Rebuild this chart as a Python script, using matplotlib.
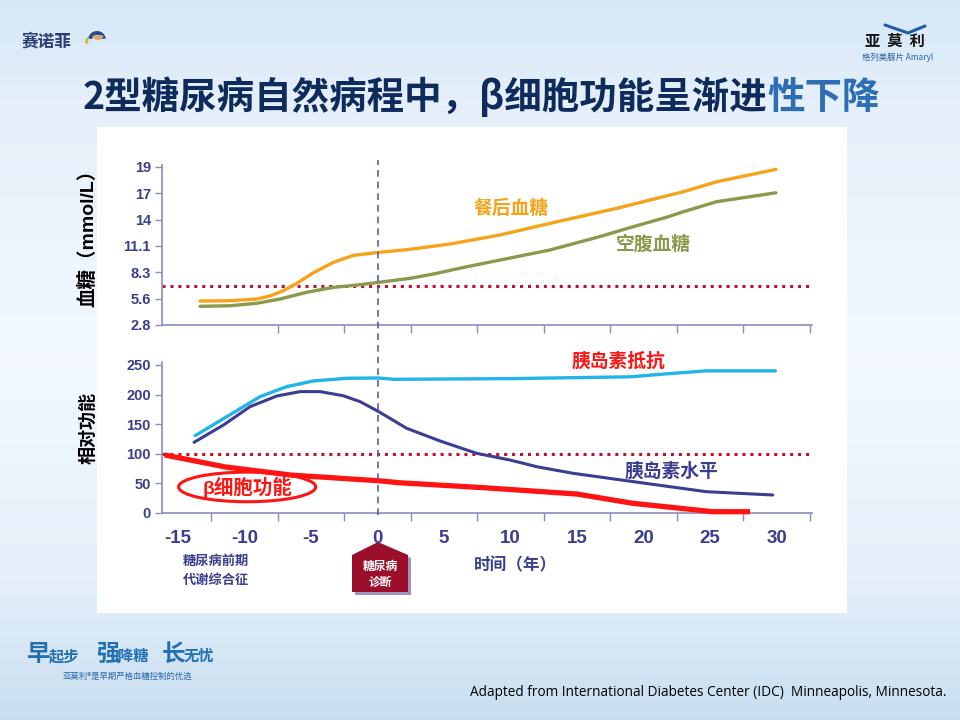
import numpy as np
import matplotlib
matplotlib.use('Agg')
import matplotlib.pyplot as plt
from matplotlib.patches import Ellipse, Polygon, Rectangle, Wedge
from matplotlib.lines import Line2D
import matplotlib.transforms as mtransforms

plt.rcParams['font.family'] = ['Liberation Sans', 'Noto Sans CJK SC', 'DejaVu Sans']

# ---------------- data ----------------
post_years = [-13.34, -11.08, -9.08, -8.08, -7.08, -6.07, -4.82, -3.32, -1.82, 0.1, 2.44,
              5.45, 9.2, 12.96, 17.97, 22.97, 25.48, 29.94]
post_glucose = [5.31, 5.34, 5.52, 5.84, 6.4, 7.17, 8.29, 9.39, 10.12, 10.44, 10.76,
                11.32, 12.27, 13.5, 15.08, 16.83, 17.88, 19.19]

fast_years = [-13.34, -11.08, -9.08, -7.33, -5.32, -3.32, -1.56, 0.1, 2.44, 4.2, 6.7,
              12.96, 16.7, 19.2, 21.7, 22.97, 25.48, 29.94]
fast_glucose = [4.75, 4.81, 5.07, 5.52, 6.23, 6.75, 6.99, 7.28, 7.7, 8.16, 8.92,
                10.69, 12.1, 13.14, 14.13, 14.72, 15.78, 16.72]

resist_years = [-13.71, -11.33, -8.83, -6.82, -4.82, -2.31, 0.1, 1.19, 9.95, 19.0, 21.7, 24.7, 29.9]
resist_values = [130.6, 162.7, 196.5, 213.4, 223, 227.5, 228, 225.8, 226.9, 230, 235, 240, 240]

insulin_years = [-13.79, -11.58, -9.58, -7.57, -5.82, -4.32, -2.57, -1.31, 0.1, 2.19, 4.7,
                 7.45, 9.95, 12.0, 14.7, 19.2, 24.7, 29.7]
insulin_values = [119.4, 148.6, 179.6, 197.6, 205, 205, 198, 188, 171, 143, 121.6,
                  100.8, 89.5, 78, 67, 53, 36, 30.4]

beta_years = [-16.0, -11.5, -6.5, 0.0, 1.7, 8.0, 15.0, 19.2, 25.2, 28.0]
beta_values = [98, 78, 64, 54.6, 51, 42.7, 32, 16.3, 2.2, 2.2]

glucose_ticks = [2.78, 5.56, 8.33, 11.11, 13.89, 16.67, 19.44]
glucose_tick_labels = ['2.8', '5.6', '8.3', '11.1', '14', '17', '19']
function_ticks = [0, 50, 100, 150, 200, 250]
function_tick_labels = ['0', '50', '100', '150', '200', '250']
year_ticks = [-15, -10, -5, 0, 5, 10, 15, 20, 25, 30]
year_tick_labels = ['-15', '-10', '-5', '0', '5', '10', '15', '20', '25', '30']
glucose_threshold = 6.9
function_threshold = 100
diagnosis_year = 0

# ---------------- colours ----------------
NAVY = '#0e2b5c'
TICKC = '#3b3e8f'
AXC = '#8a8cc0'
ORANGE = '#f7a21b'
GREEN = '#8a9a4c'
LBLUE = '#22b4e8'
DBLUE = '#3a3d92'
RED = '#ff1414'
DOTRED = '#c4102c'
CJK = ['Noto Sans CJK SC', 'DejaVu Sans']

W, H = 960, 720
def fx(px):
    return px / W
def fy(py):
    return 1 - py / H

fig = plt.figure(figsize=(9.6, 7.2), dpi=100)

# ---------------- background ----------------
bg = fig.add_axes([0, 0, 1, 1])
bg.set_xlim(0, W)
bg.set_ylim(H, 0)
bg.axis('off')
stops = np.array([0.0, 0.15, 0.5, 0.8, 1.0])
cols = np.array([[0.84, 0.91, 0.97],
                 [0.90, 0.94, 0.98],
                 [0.95, 0.975, 1.0],
                 [0.90, 0.94, 0.98],
                 [0.78, 0.87, 0.94]])
yy = np.linspace(0, 1, 256)
grad = np.stack([np.interp(yy, stops, cols[:, k]) for k in range(3)], axis=-1)
grad = np.repeat(grad[:, None, :], 4, axis=1)
bg.imshow(grad, extent=[0, W, H, 0], aspect='auto', zorder=0)
bg.add_patch(Rectangle((97, 127), 750, 486, facecolor='white', edgecolor='none', zorder=1))

# logos (text + simple shapes)
bg.text(22, 41, '赛诺菲', fontsize=12, fontweight='bold', color='#2b3d78',
        family=CJK, va='center', ha='left', zorder=2)
bg.add_patch(Wedge((97, 40), 9, 190, 350, width=4, facecolor='#2a4a9a', zorder=2))
bg.add_patch(Wedge((98, 34), 6, 20, 160, width=4, facecolor='#e3a860', zorder=2))
bg.add_patch(Wedge((89, 41), 4, 120, 260, width=3, facecolor='#c8c040', zorder=2))

bg.plot([885, 908, 925], [25, 33, 26], color='#1f5fa8', lw=2.2, zorder=2, solid_capstyle='round')
bg.text(895, 41, '亚  莫  利', fontsize=11, fontweight='bold', color='#111111',
        family=CJK, va='center', ha='center', zorder=2)
bg.text(898, 57, '格列美脲片 Amaryl', fontsize=6, color='#2a62a8',
        family=CJK, va='center', ha='center', zorder=2)

# bottom-left slogan
SLOG = '#2270b4'
bg.text(27, 661, '早', fontsize=17, fontweight='bold', color=SLOG, family=CJK, va='baseline', zorder=2)
bg.text(49, 661, '起步', fontsize=11, fontweight='bold', color=SLOG, family=CJK, va='baseline', zorder=2)
bg.text(96, 661, '强', fontsize=17, fontweight='bold', color=SLOG, family=CJK, va='baseline', zorder=2)
bg.text(118, 661, '降糖', fontsize=11, fontweight='bold', color=SLOG, family=CJK, va='baseline', zorder=2)
bg.text(162, 661, '长', fontsize=17, fontweight='bold', color=SLOG, family=CJK, va='baseline', zorder=2)
bg.text(184, 661, '无忧', fontsize=11, fontweight='bold', color=SLOG, family=CJK, va='baseline', zorder=2)
bg.text(127, 676, '亚莫利®是早期严格血糖控制的优选', fontsize=6, color='#2e68ae',
        family=CJK, va='center', ha='center', zorder=2)

# footer
bg.text(470, 693, 'Adapted from International Diabetes Center (IDC)  Minneapolis, Minnesota.',
        fontsize=9.8, color='black', family=['Open Sans', 'DejaVu Sans'], va='center', ha='left', zorder=2)

# title
t1 = bg.text(83, 97, '2型糖尿病自然病程中，β细胞功能呈渐进', fontsize=27, fontweight='bold',
             color=NAVY, family=CJK, va='center', ha='left', zorder=2)
bg.annotate('性下降', xy=(1, 0.5), xycoords=t1, va='center', ha='left', fontsize=27,
            fontweight='bold', color='#2d6db4', family=CJK, zorder=2)

# ---------------- axes ----------------
XL = (-16.2, 32.65)

def style_axis(ax):
    for s in ['top', 'right']:
        ax.spines[s].set_visible(False)
    for s in ['left', 'bottom']:
        ax.spines[s].set_color(AXC)
        ax.spines[s].set_linewidth(1.2)
    ax.set_facecolor('none')
    ax.tick_params(axis='y', colors=AXC, length=5, width=1.0, pad=3,
                   labelcolor=TICKC, labelsize=10.5)
    for lab in ax.get_yticklabels():
        lab.set_fontweight('bold')

ax1 = fig.add_axes([fx(162), fy(325), (812 - 162) / W, (325 - 165) / H])
ax1.set_xlim(*XL)
ax1.set_ylim(2.78, 19.65)
ax1.set_yticks(glucose_ticks)
ax1.set_yticklabels(glucose_tick_labels)
ax1.set_xticks([])
ax1.set_xticks(np.arange(-7.5, 33, 5), minor=True)
ax1.tick_params(axis='x', which='minor', colors=AXC, length=6, width=1.0, labelbottom=False)
style_axis(ax1)

ax1.axhline(glucose_threshold, color=DOTRED, lw=2.2, linestyle=(0, (1, 1.6)), zorder=2)
ax1.plot(post_years, post_glucose, color=ORANGE, lw=2.4, zorder=3,
         solid_capstyle='round', solid_joinstyle='round')
ax1.plot(fast_years, fast_glucose, color=GREEN, lw=2.4, zorder=3,
         solid_capstyle='round', solid_joinstyle='round')
ax1.text(10.0, 15.1, '餐后血糖', color=ORANGE, fontsize=13.5, fontweight='bold',
         family=CJK, ha='center', va='center')
ax1.text(20.7, 11.3, '空腹血糖', color=GREEN, fontsize=13.5, fontweight='bold',
         family=CJK, ha='center', va='center')

ax2 = fig.add_axes([fx(162), fy(513), (812 - 162) / W, (513 - 362) / H])
ax2.set_xlim(*XL)
ax2.set_ylim(0, 255)
ax2.set_yticks(function_ticks)
ax2.set_yticklabels(function_tick_labels)
ax2.set_xticks(year_ticks)
ax2.set_xticklabels(year_tick_labels)
ax2.set_xticks(np.arange(-12.5, 33, 5), minor=True)
ax2.tick_params(axis='x', which='major', length=0, pad=12, labelcolor=TICKC, labelsize=13.5)
ax2.tick_params(axis='x', which='minor', colors=AXC, length=6, width=1.0)
for lab in ax2.get_xticklabels():
    lab.set_fontweight('bold')
style_axis(ax2)

ax2.axhline(function_threshold, color=DOTRED, lw=2.2, linestyle=(0, (1, 1.6)), zorder=2)
ax2.plot(resist_years, resist_values, color=LBLUE, lw=2.4, zorder=4,
         solid_capstyle='round', solid_joinstyle='round')
ax2.plot(insulin_years, insulin_values, color=DBLUE, lw=2.2, zorder=4,
         solid_capstyle='round', solid_joinstyle='round')
ax2.add_patch(Ellipse((-9.8, 44), 10.3, 50, facecolor='white', edgecolor=RED, lw=2.2,
                      zorder=3, clip_on=False))
ax2.text(-9.8, 44, 'β细胞功能', color=RED, fontsize=14, fontweight='bold',
         ha='center', va='center', zorder=6)
ax2.plot(beta_years, beta_values, color=RED, lw=3.8, zorder=5, solid_capstyle='butt',
         solid_joinstyle='round', clip_on=False)
ax2.text(18.1, 257, '胰岛素抵抗', color=RED, fontsize=13.5, fontweight='bold',
         family=CJK, ha='center', va='center', clip_on=False)
ax2.text(22.1, 70, '胰岛素水平', color=DBLUE, fontsize=13.5, fontweight='bold',
         family=CJK, ha='center', va='center')

# vertical dashed diagnosis line across both panels
trans = mtransforms.blended_transform_factory(ax1.transData, fig.transFigure)
fig.add_artist(Line2D([diagnosis_year, diagnosis_year], [fy(515), fy(160)], transform=trans,
                      color='#5a5ca8', lw=1.2, linestyle=(0, (4, 3)), zorder=5))

# axis titles
bg.text(88, 233, '血糖（mmol/L）', rotation=90, fontsize=14, fontweight='bold', color='black',
        family=['Liberation Sans', 'Noto Sans CJK SC'], ha='center', va='center', zorder=2)
bg.text(88, 428, '相对功能', rotation=90, fontsize=13, fontweight='bold', color='black',
        family=CJK, ha='center', va='center', zorder=2)

bg.text(216, 561, '糖尿病前期', fontsize=9.5, fontweight='bold', color=TICKC, family=CJK,
        ha='center', va='center', zorder=2)
bg.text(216, 580, '代谢综合征', fontsize=9.5, fontweight='bold', color=TICKC, family=CJK,
        ha='center', va='center', zorder=2)
bg.text(515, 565, '时间（年）', fontsize=12, fontweight='bold', color=TICKC, family=CJK,
        ha='center', va='center', zorder=2)

# diagnosis pentagon marker
pent = [(378, 542), (408, 555), (408, 592), (352, 592), (352, 555)]
shadow = [(x + 3, y + 3) for x, y in pent]
bg.add_patch(Polygon(shadow, closed=True, facecolor='#9a98c0', edgecolor='none', zorder=2))
bg.add_patch(Polygon(pent, closed=True, facecolor='#9c0f2c', edgecolor='none', zorder=3))
bg.text(380, 566, '糖尿病', fontsize=8.5, fontweight='bold', color='white', family=CJK,
        ha='center', va='center', zorder=4)
bg.text(380, 582, '诊断', fontsize=8.5, fontweight='bold', color='white', family=CJK,
        ha='center', va='center', zorder=4)

fig.savefig('out.png', dpi=100)
